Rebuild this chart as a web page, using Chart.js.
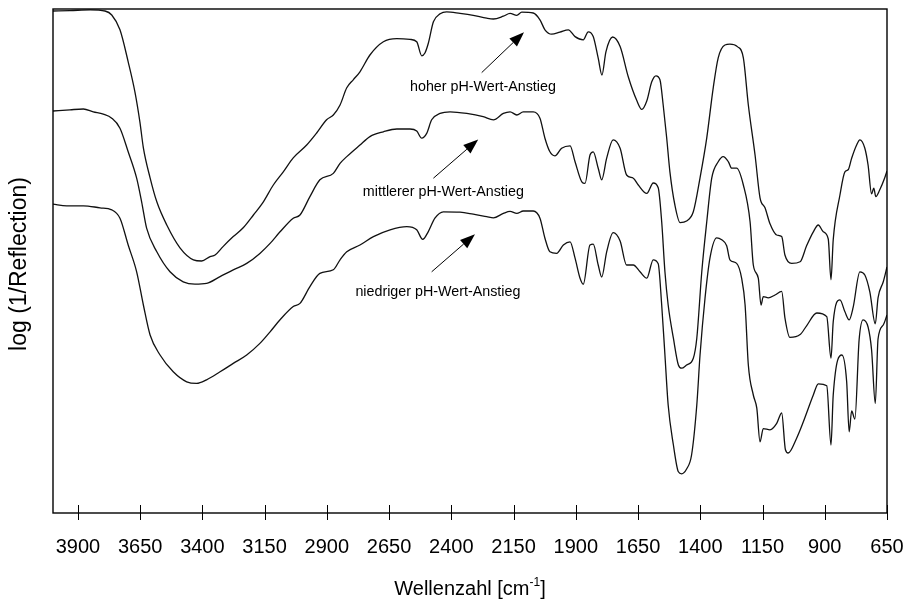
<!DOCTYPE html>
<html>
<head>
<meta charset="utf-8">
<script src="https://cdn.jsdelivr.net/npm/chart.js@4.4.0/dist/chart.umd.min.js"></script>
<style>
  html, body { margin: 0; padding: 0; background: #fff; }
  #wrap { width: 907px; height: 603px; }
</style>
</head>
<body>
<div id="wrap"><canvas id="c" width="907" height="603"></canvas></div>
<script>
// Wavenumbers (cm^-1) and log(1/R) values of the three spectra
const wnHigh = [4000,3932,3851,3791,3764,3731,3698,3671,3651,3637,3610,3583,3543,3490,3436,3403,3369,3349,3317,3276,3236,3195,3155,3115,3075,3035,2981,2941,2901,2874,2847,2820,2794,2767,2727,2673,2619,2566,2539,2519,2506,2493,2472,2445,2419,2365,2312,2258,2231,2191,2164,2137,2117,2071,2044,2024,1997,1964,1930,1903,1870,1850,1830,1810,1795,1779,1752,1722,1689,1655,1635,1615,1595,1578,1562,1549,1535,1522,1502,1481,1455,1428,1401,1374,1348,1328,1301,1281,1251,1227,1207,1180,1160,1140,1120,1093,1073,1060,1033,999,973,946,926,906,886,875,866,839,819,806,792,772,759,739,726,712,703,695,679,659,650];
const absHigh = [1.255,1.256,1.258,1.255,1.245,1.208,1.128,1.053,0.978,0.913,0.838,0.778,0.720,0.663,0.633,0.630,0.641,0.645,0.666,0.691,0.713,0.745,0.778,0.820,0.853,0.888,0.920,0.950,0.983,0.995,1.020,1.063,1.083,1.103,1.145,1.178,1.186,1.184,1.178,1.143,1.150,1.173,1.228,1.248,1.253,1.249,1.244,1.237,1.235,1.242,1.249,1.244,1.252,1.250,1.233,1.208,1.197,1.202,1.208,1.191,1.183,1.203,1.191,1.137,1.095,1.153,1.190,1.166,1.090,1.031,1.009,1.030,1.078,1.093,1.083,1.020,0.938,0.853,0.770,0.726,0.730,0.753,0.838,0.938,1.063,1.138,1.170,1.172,1.166,1.138,1.020,0.895,0.788,0.763,0.723,0.695,0.691,0.645,0.624,0.628,0.668,0.703,0.720,0.703,0.685,0.583,0.683,0.795,0.853,0.858,0.887,0.920,0.933,0.912,0.870,0.798,0.812,0.791,0.808,0.838,0.855];

const wnMid = [4000,3932,3878,3838,3798,3764,3731,3698,3664,3644,3624,3583,3530,3477,3430,3383,3329,3276,3222,3169,3128,3088,3035,3008,2968,2928,2874,2847,2820,2767,2727,2673,2619,2566,2539,2519,2499,2479,2445,2405,2338,2272,2231,2191,2164,2137,2111,2071,2044,2024,2004,1984,1957,1923,1903,1876,1863,1843,1830,1810,1796,1776,1750,1722,1696,1669,1649,1615,1589,1569,1555,1542,1529,1508,1488,1475,1455,1428,1414,1394,1374,1354,1328,1308,1287,1274,1254,1227,1200,1187,1167,1156,1147,1127,1100,1073,1060,1040,999,973,932,892,875,866,839,819,802,786,759,739,719,697,686,665,650];
const absMid = [1.005,1.008,1.010,1.003,0.997,0.987,0.962,0.903,0.837,0.778,0.712,0.653,0.603,0.578,0.572,0.574,0.591,0.608,0.624,0.649,0.674,0.703,0.737,0.745,0.791,0.833,0.849,0.874,0.891,0.920,0.941,0.953,0.960,0.960,0.955,0.937,0.949,0.983,0.999,1.003,0.999,0.991,0.983,0.999,1.003,0.995,1.003,1.003,0.987,0.937,0.903,0.893,0.912,0.918,0.878,0.828,0.824,0.895,0.903,0.862,0.833,0.887,0.933,0.912,0.845,0.837,0.820,0.799,0.825,0.813,0.728,0.603,0.520,0.437,0.370,0.362,0.370,0.387,0.437,0.603,0.728,0.837,0.878,0.891,0.878,0.862,0.862,0.820,0.728,0.620,0.587,0.520,0.541,0.538,0.545,0.554,0.488,0.439,0.446,0.468,0.500,0.491,0.387,0.478,0.533,0.503,0.483,0.514,0.603,0.595,0.553,0.473,0.538,0.578,0.615];

const wnLow = [4000,3945,3878,3811,3764,3731,3698,3664,3637,3610,3570,3517,3463,3423,3383,3329,3276,3222,3169,3128,3088,3035,3008,2968,2928,2874,2847,2820,2767,2713,2646,2579,2539,2515,2493,2466,2432,2365,2312,2258,2231,2191,2164,2137,2111,2071,2044,2024,2004,1977,1950,1923,1903,1883,1870,1843,1830,1810,1796,1776,1750,1722,1696,1669,1642,1615,1589,1569,1555,1542,1529,1508,1488,1475,1455,1435,1414,1401,1381,1361,1334,1314,1294,1281,1254,1234,1220,1207,1187,1173,1160,1147,1120,1093,1073,1058,1047,1013,986,946,926,892,875,866,831,812,802,792,779,762,746,726,712,697,686,665,650];
const absLow = [0.772,0.768,0.768,0.763,0.758,0.737,0.670,0.603,0.520,0.445,0.395,0.353,0.328,0.324,0.333,0.353,0.374,0.395,0.424,0.453,0.483,0.516,0.524,0.566,0.599,0.608,0.633,0.653,0.670,0.691,0.708,0.716,0.708,0.684,0.703,0.737,0.753,0.752,0.747,0.741,0.738,0.749,0.754,0.749,0.755,0.755,0.737,0.687,0.653,0.649,0.670,0.678,0.637,0.587,0.572,0.670,0.672,0.620,0.590,0.653,0.701,0.680,0.620,0.620,0.603,0.587,0.633,0.623,0.520,0.395,0.270,0.170,0.103,0.098,0.110,0.145,0.270,0.395,0.537,0.638,0.688,0.683,0.668,0.633,0.624,0.587,0.520,0.370,0.295,0.262,0.178,0.211,0.208,0.224,0.250,0.158,0.150,0.187,0.228,0.295,0.323,0.318,0.170,0.295,0.395,0.328,0.203,0.255,0.235,0.433,0.483,0.465,0.408,0.274,0.435,0.470,0.495];

// Axis tick labels
const xTicks = [3900,3650,3400,3150,2900,2650,2400,2150,1900,1650,1400,1150,900,650];

// Series names (also used as the arrow captions)
const seriesNames = ['hoher pH-Wert-Anstieg', 'mittlerer pH-Wert-Anstieg', 'niedriger pH-Wert-Anstieg'];

// Caption anchors in data units: text centre, arrow tail, arrow tip
const captions = [
  { text: seriesNames[0], at: [2273, 1.066], from: [2278, 1.101], to: [2108, 1.202] },
  { text: seriesNames[1], at: [2432, 0.803], from: [2472, 0.837], to: [2292, 0.934] },
  { text: seriesNames[2], at: [2454, 0.553], from: [2479, 0.603], to: [2305, 0.697] }
];

const FONT = '"Liberation Sans", Arial, Helvetica, sans-serif';

function pairs(xs, ys) {
  const n = Math.min(xs.length, ys.length);
  const out = [];
  for (let i = 0; i < n; i++) out.push({ x: xs[i], y: ys[i] });
  return out;
}

function spectrum(label, xs, ys) {
  return {
    label,
    data: pairs(xs, ys),
    borderColor: '#111',
    borderWidth: 1.3,
    pointRadius: 0,
    fill: false,
    cubicInterpolationMode: 'monotone'
  };
}

// Frame, crossing tick marks, axis titles and arrow captions
const decorations = {
  id: 'decorations',
  afterDatasetsDraw(chart) {
    const { ctx, chartArea: a, scales } = chart;
    const xs = scales.x, ys = scales.y;
    ctx.save();

    // frame
    ctx.strokeStyle = '#000';
    ctx.lineWidth = 1.4;
    ctx.strokeRect(a.left, a.top, a.right - a.left, a.bottom - a.top);

    // tick marks across the bottom axis
    ctx.lineWidth = 1;
    ctx.beginPath();
    xTicks.forEach(v => {
      const px = Math.round(xs.getPixelForValue(v)) + 0.5;
      ctx.moveTo(px, a.bottom - 8);
      ctx.lineTo(px, a.bottom + 7);
    });
    ctx.stroke();

    // x axis title with superscript
    ctx.fillStyle = '#000';
    ctx.textBaseline = 'alphabetic';
    ctx.textAlign = 'left';
    const main = 'Wellenzahl [cm';
    const sup = '-1';
    const end = ']';
    ctx.font = '20px ' + FONT;
    const wMain = ctx.measureText(main).width;
    const wEnd = ctx.measureText(end).width;
    ctx.font = '12px ' + FONT;
    const wSup = ctx.measureText(sup).width;
    const total = wMain + wSup + wEnd;
    let tx = (a.left + a.right) / 2 - total / 2;
    const base = 595;
    ctx.font = '20px ' + FONT;
    ctx.fillText(main, tx, base);
    ctx.font = '12px ' + FONT;
    ctx.fillText(sup, tx + wMain, base - 9);
    ctx.font = '20px ' + FONT;
    ctx.fillText(end, tx + wMain + wSup, base);

    // y axis title
    ctx.save();
    ctx.translate(19.5, 264);
    ctx.rotate(-Math.PI / 2);
    ctx.textAlign = 'center';
    ctx.textBaseline = 'middle';
    ctx.font = '23px ' + FONT;
    ctx.fillText('log (1/Reflection)', 0, 0);
    ctx.restore();

    // captions with arrows
    captions.forEach(c => {
      const lx = xs.getPixelForValue(c.at[0]), ly = ys.getPixelForValue(c.at[1]);
      ctx.font = '14.3px ' + FONT;
      ctx.textAlign = 'center';
      ctx.textBaseline = 'middle';
      ctx.fillText(c.text, lx, ly);

      const x0 = xs.getPixelForValue(c.from[0]), y0 = ys.getPixelForValue(c.from[1]);
      const x1 = xs.getPixelForValue(c.to[0]), y1 = ys.getPixelForValue(c.to[1]);
      const ang = Math.atan2(y1 - y0, x1 - x0);
      const headLen = 15, headHalf = 5.5;
      const bx = x1 - headLen * Math.cos(ang), by = y1 - headLen * Math.sin(ang);
      ctx.lineWidth = 1;
      ctx.beginPath();
      ctx.moveTo(x0, y0);
      ctx.lineTo(bx, by);
      ctx.stroke();
      ctx.beginPath();
      ctx.moveTo(x1, y1);
      ctx.lineTo(bx + headHalf * Math.sin(ang), by - headHalf * Math.cos(ang));
      ctx.lineTo(bx - headHalf * Math.sin(ang), by + headHalf * Math.cos(ang));
      ctx.closePath();
      ctx.fill();
    });

    ctx.restore();
  }
};

new Chart(document.getElementById('c'), {
  type: 'line',
  data: {
    datasets: [
      spectrum(seriesNames[0], wnHigh, absHigh),
      spectrum(seriesNames[1], wnMid, absMid),
      spectrum(seriesNames[2], wnLow, absLow)
    ]
  },
  options: {
    responsive: false,
    animation: false,
    devicePixelRatio: 1,
    layout: { padding: { left: 53, right: 20, top: 9, bottom: 0 } },
    plugins: { legend: { display: false }, tooltip: { enabled: false } },
    scales: {
      x: {
        type: 'linear',
        reverse: true,
        min: 650,
        max: 4000,
        afterBuildTicks(scale) { scale.ticks = xTicks.map(v => ({ value: v })); },
        afterFit(scale) {
          scale.height = 90;
          scale.paddingLeft = 0;
          scale.paddingRight = 0;
        },
        grid: { display: false, drawTicks: false },
        border: { display: false },
        ticks: {
          autoSkip: false,
          maxRotation: 0,
          padding: 22,
          color: '#000',
          font: { family: FONT, size: 20 },
          callback: v => String(v)
        }
      },
      y: {
        display: false,
        min: 0,
        max: 1.26
      }
    }
  },
  plugins: [decorations]
});
</script>
</body>
</html>
